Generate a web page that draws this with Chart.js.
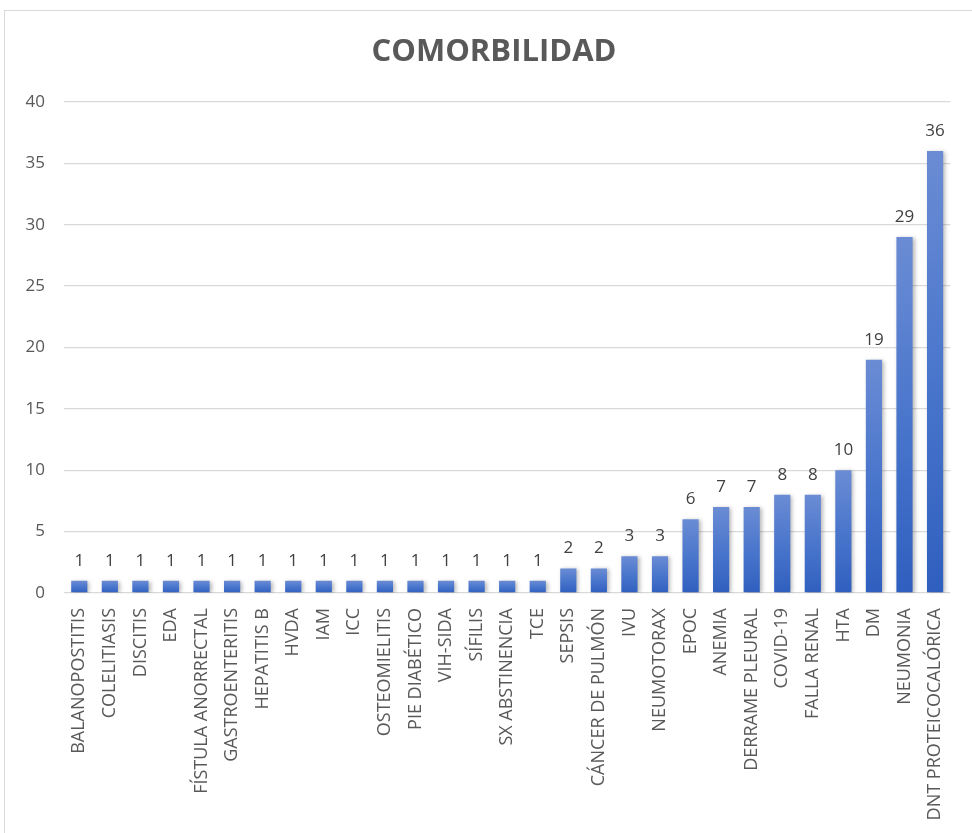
<!DOCTYPE html>
<html>
<head>
<meta charset="utf-8">
<script src="https://cdn.jsdelivr.net/npm/chart.js@4"></script>
<style>
  html, body { margin: 0; padding: 0; background: #fff; overflow: hidden; }
  #wrap { position: relative; width: 972px; height: 833px; }
  #frame { position: absolute; left: 4px; top: 10px; width: 1000px; height: 900px;
           border: 1px solid #d9d9d9; box-sizing: border-box; pointer-events: none; }
  canvas { position: absolute; left: 0; top: 0; }
</style>
</head>
<body>
<div id="wrap">
  <div id="frame"></div>
  <canvas id="chart" width="972" height="833"></canvas>
</div>
<script>
// ═══ DATA ═══
const categories = [
  'BALANOPOSTITIS', 'COLELITIASIS', 'DISCITIS', 'EDA', 'FÍSTULA ANORRECTAL',
  'GASTROENTERITIS', 'HEPATITIS B', 'HVDA', 'IAM', 'ICC', 'OSTEOMIELITIS',
  'PIE DIABÉTICO', 'VIH-SIDA', 'SÍFILIS', 'SX ABSTINENCIA', 'TCE', 'SEPSIS',
  'CÁNCER DE PULMÓN', 'IVU', 'NEUMOTORAX', 'EPOC', 'ANEMIA', 'DERRAME PLEURAL',
  'COVID-19', 'FALLA RENAL', 'HTA', 'DM', 'NEUMONIA', 'DNT PROTEICOCALÓRICA'
];
const counts = [
  1, 1, 1, 1, 1, 1, 1, 1, 1, 1, 1, 1, 1, 1, 1, 1,
  2, 2, 3, 3, 6, 7, 7, 8, 8, 10, 19, 29, 36
];
const yTicks = [0, 5, 10, 15, 20, 25, 30, 35, 40];
const chartTitle = 'COMORBILIDAD';

const FONT = "'Open Sans', 'Liberation Sans', sans-serif";
const GREY = '#595959';

// per-bar vertical gradient, lighter at the top
function barFill(ctx) {
  const chart = ctx.chart;
  if (ctx.type !== 'data' || !chart.chartArea) return '#4472c4';
  const y = chart.scales.y;
  const top = y.getPixelForValue(ctx.parsed.y);
  const base = y.getPixelForValue(0);
  const g = chart.ctx.createLinearGradient(0, top, 0, base);
  g.addColorStop(0, '#6b8cd4');
  g.addColorStop(0.5, '#4a76cc');
  g.addColorStop(1, '#2f5fbf');
  return g;
}

// title centred on the framed box, not on the plot
const boxTitle = {
  id: 'boxTitle',
  afterDraw(chart) {
    const c = chart.ctx;
    c.save();
    c.font = 'bold 31px ' + FONT;
    c.fillStyle = GREY;
    c.textAlign = 'center';
    c.textBaseline = 'middle';
    c.fillText(chartTitle, 494, 52);
    c.restore();
  }
};

// soft shadow under the bars + value labels on top
const barDecor = {
  id: 'barDecor',
  beforeDatasetsDraw(chart) {
    const c = chart.ctx;
    c.save();
    c.shadowColor = 'rgba(0,0,0,0.28)';
    c.shadowBlur = 4;
    c.shadowOffsetX = 2;
    c.shadowOffsetY = 1;
  },
  afterDatasetsDraw(chart) {
    const c = chart.ctx;
    c.restore();
    const meta = chart.getDatasetMeta(0);
    c.save();
    c.font = '17px ' + FONT;
    c.fillStyle = '#404040';
    c.textAlign = 'center';
    c.textBaseline = 'alphabetic';
    meta.data.forEach((bar, i) => {
      c.fillText(String(counts[i]), bar.x, bar.y - 15);
    });
    c.restore();
  }
};

new Chart(document.getElementById('chart'), {
  type: 'bar',
  data: {
    labels: categories,
    datasets: [{
      data: counts,
      backgroundColor: barFill,
      borderWidth: 0,
      categoryPercentage: 1,
      barPercentage: 0.53
    }]
  },
  options: {
    responsive: false,
    devicePixelRatio: 1,
    animation: false,
    layout: { padding: { left: 0, right: 19, top: 102, bottom: 0 } },
    plugins: {
      legend: { display: false },
      tooltip: { enabled: false },
      title: { display: false }
    },
    scales: {
      x: {
        grid: { display: false, drawTicks: false },
        border: { display: false },
        ticks: {
          color: GREY,
          font: { family: FONT, size: 18 },
          minRotation: 90,
          maxRotation: 90,
          autoSkip: false,
          padding: 15
        },
        afterFit: s => { s.height = 240; }
      },
      y: {
        min: 0,
        max: 40,
        afterBuildTicks: s => { s.ticks = yTicks.map(v => ({ value: v })); },
        grid: { color: '#d9d9d9', lineWidth: 1.3, drawTicks: false },
        border: { display: false },
        ticks: {
          color: GREY,
          font: { family: FONT, size: 17 },
          padding: 19
        },
        afterFit: s => { s.width = 64; }
      }
    }
  },
  plugins: [barDecor, boxTitle]
});
</script>
</body>
</html>
